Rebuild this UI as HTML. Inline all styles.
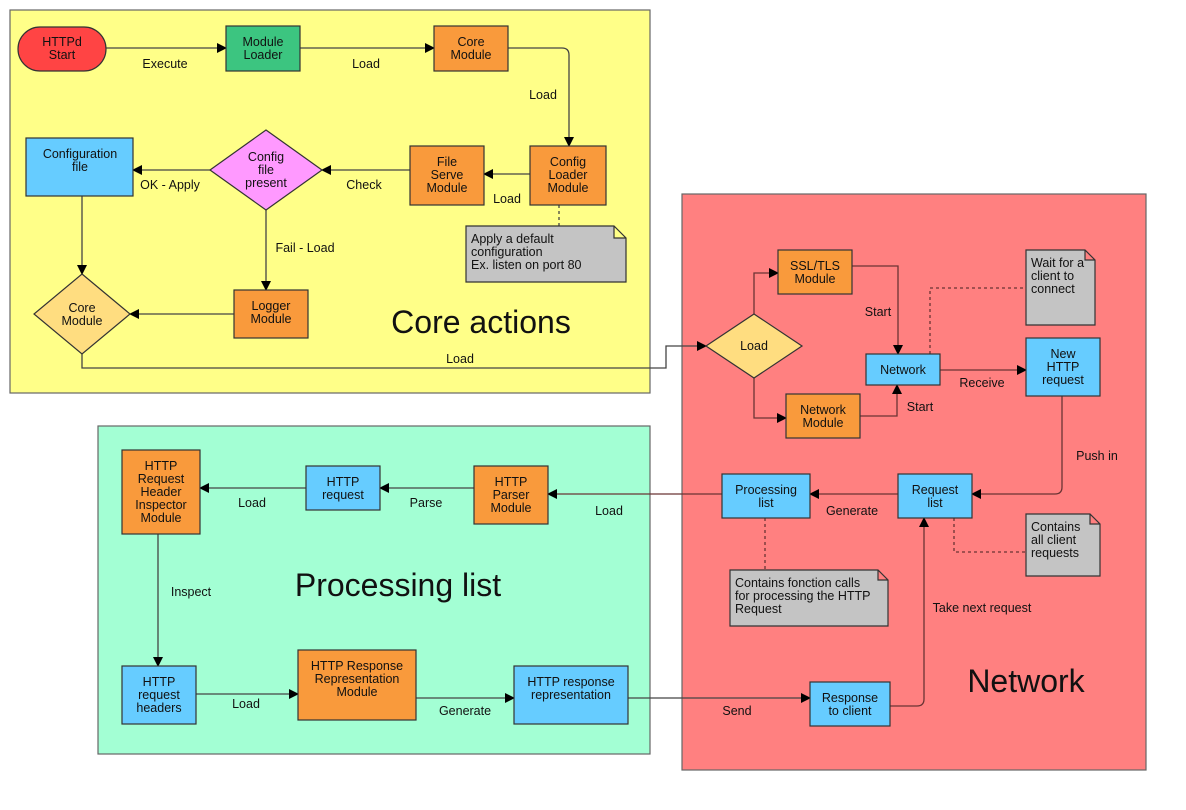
<!DOCTYPE html>
<html><head><meta charset="utf-8"><style>
html,body{margin:0;padding:0;background:#fff;}
svg{display:block;font-family:"Liberation Sans",sans-serif;}
text{font-size:12.5px;fill:#111;}
.big{font-size:32px;}
.e{stroke:#444;stroke-width:1.3;fill:none;}
.r{stroke:#6a3434;}
.d{stroke-dasharray:3,3;}
.n{stroke:#333;stroke-width:1.2;}
</style></head><body>
<svg width="1186" height="810" viewBox="0 0 1186 810" xmlns="http://www.w3.org/2000/svg">
<defs>
<marker id="a" markerWidth="10" markerHeight="10" refX="9" refY="5" orient="auto" markerUnits="userSpaceOnUse"><path d="M0,0 L10,5 L0,10 z" fill="#000"/></marker>
</defs>
<!-- containers -->
<rect x="10" y="10" width="640" height="383" fill="#ffff88" stroke="#666" stroke-width="1.2"/>
<rect x="682" y="194" width="464" height="576" fill="#ff8080" stroke="#666" stroke-width="1.2"/>
<rect x="98" y="426" width="552" height="328" fill="#a3ffd4" stroke="#666" stroke-width="1.2"/>

<g text-anchor="middle">
<text class="big" x="481" y="333">Core actions</text>
<text class="big" x="1026" y="692">Network</text>
<text class="big" x="398" y="596">Processing list</text>
</g>

<!-- edges core -->
<path class="e" d="M106,48 H226" marker-end="url(#a)"/>
<path class="e" d="M300,48 H434" marker-end="url(#a)"/>
<path class="e" d="M508,48 H562 Q569,48 569,55 V146" marker-end="url(#a)"/>
<path class="e" d="M530,174 H484" marker-end="url(#a)"/>
<path class="e" d="M410,170 H322" marker-end="url(#a)"/>
<path class="e" d="M210,170 H133" marker-end="url(#a)"/>
<path class="e" d="M266,210 V290" marker-end="url(#a)"/>
<path class="e" d="M234,314 H130" marker-end="url(#a)"/>
<path class="e" d="M82,196 V274" marker-end="url(#a)"/>
<path class="e" d="M82,354 V368 H666 V346 H706" marker-end="url(#a)"/>
<path class="e d" d="M559,205 V226"/>

<!-- edges network -->
<path class="e r" d="M754,314 V273 H778" marker-end="url(#a)"/>
<path class="e r" d="M754,378 V418 H786" marker-end="url(#a)"/>
<path class="e r" d="M852,266 H898 V354" marker-end="url(#a)"/>
<path class="e r" d="M860,416 H897 V385" marker-end="url(#a)"/>
<path class="e r" d="M940,370 H1026" marker-end="url(#a)"/>
<path class="e r d" d="M930,354 V288 H1026"/>
<path class="e r" d="M1062,396 V487 Q1062,494 1055,494 H972" marker-end="url(#a)"/>
<path class="e r" d="M898,494 H810" marker-end="url(#a)"/>
<path class="e r d" d="M954,518 V552 H1026"/>
<path class="e r d" d="M765,518 V570"/>
<path class="e r" d="M722,494 H548" marker-end="url(#a)"/>
<path class="e r" d="M890,706 H917 Q924,706 924,699 V518" marker-end="url(#a)"/>
<path class="e" d="M628,698 H810" marker-end="url(#a)"/>

<!-- edges processing -->
<path class="e" d="M474,488 H380" marker-end="url(#a)"/>
<path class="e" d="M306,488 H200" marker-end="url(#a)"/>
<path class="e" d="M158,534 V666" marker-end="url(#a)"/>
<path class="e" d="M196,694 H298" marker-end="url(#a)"/>
<path class="e" d="M416,698 H514" marker-end="url(#a)"/>

<!-- nodes -->
<rect class="n" x="18" y="27" width="88" height="44" rx="22" fill="#ff4444"/>
<rect class="n" x="226" y="26" width="74" height="45" fill="#3cc580"/>
<rect class="n" x="434" y="26" width="74" height="45" fill="#f99a3c"/>
<rect class="n" x="530" y="146" width="76" height="59" fill="#f99a3c"/>
<rect class="n" x="410" y="146" width="74" height="59" fill="#f99a3c"/>
<polygon class="n" points="266,130 322,170 266,210 210,170" fill="#ff99ff"/>
<rect class="n" x="26" y="138" width="107" height="58" fill="#66ccff"/>
<polygon class="n" points="82,274 130,314 82,354 34,314" fill="#ffdd80"/>
<rect class="n" x="234" y="290" width="74" height="48" fill="#f99a3c"/>
<path class="n" d="M466,226 H614 L626,238 V282 H466 Z M614,226 V238 H626" fill="#c4c4c4"/>

<polygon class="n" points="754,314 802,346 754,378 706,346" fill="#ffdd80"/>
<rect class="n" x="778" y="250" width="74" height="44" fill="#f99a3c"/>
<rect class="n" x="786" y="394" width="74" height="44" fill="#f99a3c"/>
<rect class="n" x="866" y="354" width="74" height="31" fill="#66ccff"/>
<rect class="n" x="1026" y="338" width="74" height="58" fill="#66ccff"/>
<path class="n" d="M1026,250 H1085 L1095,260 V325 H1026 Z M1085,250 V260 H1095" fill="#c4c4c4"/>
<rect class="n" x="898" y="474" width="74" height="44" fill="#66ccff"/>
<rect class="n" x="722" y="474" width="88" height="44" fill="#66ccff"/>
<path class="n" d="M1026,514 H1090 L1100,524 V576 H1026 Z M1090,514 V524 H1100" fill="#c4c4c4"/>
<path class="n" d="M730,570 H878 L888,580 V626 H730 Z M878,570 V580 H888" fill="#c4c4c4"/>
<rect class="n" x="810" y="682" width="80" height="44" fill="#66ccff"/>

<rect class="n" x="122" y="450" width="78" height="84" fill="#f99a3c"/>
<rect class="n" x="306" y="466" width="74" height="44" fill="#66ccff"/>
<rect class="n" x="474" y="466" width="74" height="58" fill="#f99a3c"/>
<rect class="n" x="122" y="666" width="74" height="58" fill="#66ccff"/>
<rect class="n" x="298" y="650" width="118" height="70" fill="#f99a3c"/>
<rect class="n" x="514" y="666" width="114" height="58" fill="#66ccff"/>

<!-- node text -->
<g text-anchor="middle">
<text x="62" y="46">HTTPd</text><text x="62" y="59">Start</text>
<text x="263" y="46">Module</text><text x="263" y="59">Loader</text>
<text x="471" y="46">Core</text><text x="471" y="59">Module</text>
<text x="568" y="166">Config</text><text x="568" y="179">Loader</text><text x="568" y="192">Module</text>
<text x="447" y="166">File</text><text x="447" y="179">Serve</text><text x="447" y="192">Module</text>
<text x="266" y="161">Config</text><text x="266" y="174">file</text><text x="266" y="187">present</text>
<text x="80" y="158">Configuration</text><text x="80" y="171">file</text>
<text x="82" y="312">Core</text><text x="82" y="325">Module</text>
<text x="271" y="310">Logger</text><text x="271" y="323">Module</text>
<text x="754" y="350">Load</text>
<text x="815" y="270">SSL/TLS</text><text x="815" y="283">Module</text>
<text x="823" y="414">Network</text><text x="823" y="427">Module</text>
<text x="903" y="374">Network</text>
<text x="1063" y="358">New</text><text x="1063" y="371">HTTP</text><text x="1063" y="384">request</text>
<text x="935" y="494">Request</text><text x="935" y="507">list</text>
<text x="766" y="494">Processing</text><text x="766" y="507">list</text>
<text x="850" y="702">Response</text><text x="850" y="715">to client</text>
<text x="161" y="470">HTTP</text><text x="161" y="483">Request</text><text x="161" y="496">Header</text><text x="161" y="509">Inspector</text><text x="161" y="522">Module</text>
<text x="343" y="486">HTTP</text><text x="343" y="499">request</text>
<text x="511" y="486">HTTP</text><text x="511" y="499">Parser</text><text x="511" y="512">Module</text>
<text x="159" y="686">HTTP</text><text x="159" y="699">request</text><text x="159" y="712">headers</text>
<text x="357" y="670">HTTP Response</text><text x="357" y="683">Representation</text><text x="357" y="696">Module</text>
<text x="571" y="686">HTTP response</text><text x="571" y="699">representation</text>
<!-- edge labels -->
<text x="165" y="68">Execute</text>
<text x="366" y="68">Load</text>
<text x="543" y="99">Load</text>
<text x="507" y="203">Load</text>
<text x="364" y="189">Check</text>
<text x="170" y="189">OK - Apply</text>
<text x="305" y="252">Fail - Load</text>
<text x="460" y="363">Load</text>
<text x="878" y="316">Start</text>
<text x="920" y="411">Start</text>
<text x="982" y="387">Receive</text>
<text x="1097" y="460">Push in</text>
<text x="852" y="515">Generate</text>
<text x="609" y="515">Load</text>
<text x="982" y="612">Take next request</text>
<text x="737" y="715">Send</text>
<text x="426" y="507">Parse</text>
<text x="252" y="507">Load</text>
<text x="191" y="596">Inspect</text>
<text x="246" y="708">Load</text>
<text x="465" y="715">Generate</text>
</g>
<!-- notes text -->
<text x="471" y="243">Apply a default</text><text x="471" y="256">configuration</text><text x="471" y="269">Ex. listen on port 80</text>
<text x="1031" y="267">Wait for a</text><text x="1031" y="280">client to</text><text x="1031" y="293">connect</text>
<text x="1031" y="531">Contains</text><text x="1031" y="544">all client</text><text x="1031" y="557">requests</text>
<text x="735" y="587">Contains fonction calls</text><text x="735" y="600">for processing the HTTP</text><text x="735" y="613">Request</text>
</svg>
</body></html>
